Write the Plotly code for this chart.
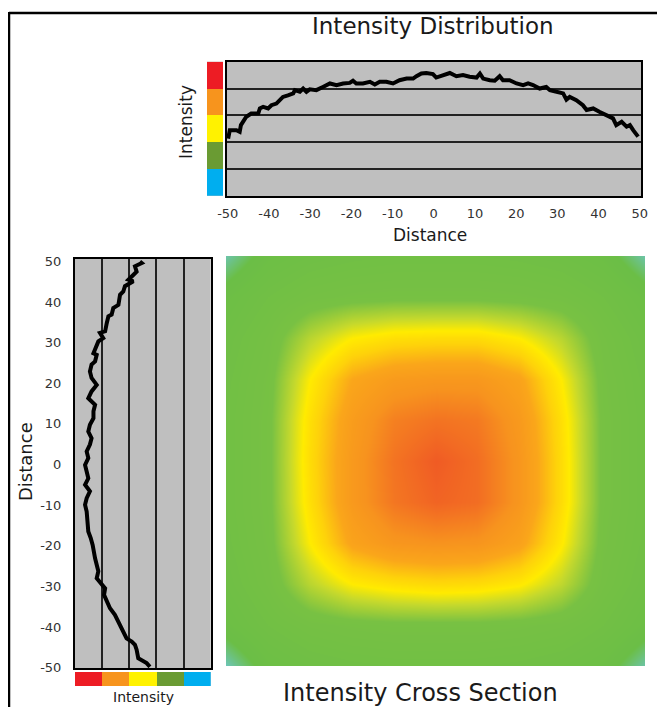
import plotly.graph_objects as go

# page is photographed at 665x707; the browser body adds an 8px margin
PAGE_W, PAGE_H, OFFSET = 665, 707, 8
W, H = PAGE_W - OFFSET, PAGE_H - OFFSET

# ---------------- data ----------------
# Top profile: horizontal intensity distribution (distance, intensity band 0-5)
top_distance = [-49.9, -49.5, -47.9, -47.1, -46.8, -45.5, -44.3, -42.6, -42.2, -41.4, -40.2, -39.4,
                -38.2, -37.4, -36.6, -35.4, -34.1, -33.7, -32.5, -31.7, -30.9, -30.1, -28.5, -26.9,
                -25.2, -23.6, -22.0, -20.4, -19.6, -18.8, -17.2, -15.5, -14.3, -13.1, -11.5, -9.9,
                -8.3, -6.6, -5.0, -4.2, -3.0, -1.8, -0.2, 0.6, 2.3, 3.9, 5.5, 7.1, 8.7, 10.4, 11.2,
                12.0, 13.6, 14.8, 16.0, 16.8, 18.4, 20.1, 21.7, 22.9, 24.1, 25.7, 27.3, 28.2, 29.8,
                31.4, 32.2, 33.0, 34.6, 36.2, 37.1, 38.7, 40.3, 41.9, 43.5, 44.3, 45.6, 46.8, 47.6,
                48.4, 49.6]
top_intensity = [2.14, 2.45, 2.45, 2.39, 2.64, 2.95, 3.07, 3.07, 3.26, 3.32, 3.26, 3.38,
                 3.44, 3.57, 3.69, 3.75, 3.82, 3.94, 3.88, 4.00, 3.88, 3.97, 3.94, 4.06,
                 4.19, 4.13, 4.19, 4.21, 4.29, 4.19, 4.19, 4.25, 4.15, 4.25, 4.25, 4.19,
                 4.31, 4.37, 4.37, 4.46, 4.56, 4.58, 4.54, 4.41, 4.50, 4.58, 4.46, 4.50, 4.44, 4.41, 4.56,
                 4.37, 4.31, 4.29, 4.46, 4.31, 4.31, 4.19, 4.13, 4.19, 4.13, 4.00, 4.06, 3.94, 3.88,
                 3.82, 3.59, 3.69, 3.57, 3.38, 3.20, 3.26, 3.13, 3.01, 2.89, 2.64, 2.76, 2.58, 2.64,
                 2.45, 2.21]

# Left profile: vertical intensity distribution (distance, intensity band 0-5)
left_distance = [50.0, 49.6, 48.8, 47.5, 46.3, 45.5, 45.1, 43.9, 42.6, 41.8, 39.3, 38.5, 36.9, 36.5,
                 34.8, 32.8, 32.4, 31.1, 30.3, 28.7, 27.4, 27.0, 25.4, 24.6, 22.9, 21.3, 19.6, 18.0,
                 16.3, 14.7, 13.1, 11.4, 9.8, 8.1, 6.5, 4.9, 3.2, 1.6, -0.1, -1.7, -3.4, -5.0, -6.6,
                 -8.3, -9.9, -11.6, -14.0, -16.5, -18.1, -19.8, -23.1, -24.7, -26.3, -28.0, -29.6,
                 -30.5, -32.1, -33.7, -35.4, -37.0, -38.7, -41.1, -42.8, -43.6, -44.4, -45.6, -47.7,
                 -48.9, -49.8]
left_intensity = [2.61, 2.54, 2.79, 2.73, 2.91, 3.03, 2.85, 3.16, 3.22, 3.34, 3.40, 3.59, 3.65, 3.77,
                  3.83, 3.89, 4.08, 3.96, 4.14, 4.26, 4.32, 4.20, 4.26, 4.39, 4.45, 4.39, 4.20, 4.39,
                  4.51, 4.26, 4.32, 4.32, 4.45, 4.51, 4.39, 4.45, 4.57, 4.51, 4.63, 4.57, 4.51, 4.63, 4.45,
                  4.57, 4.63, 4.57, 4.55, 4.51, 4.42, 4.35, 4.26, 4.20, 4.14, 4.20, 4.02,
                  3.89, 3.93, 3.83, 3.71, 3.53, 3.40, 3.22, 3.10, 2.91, 2.79, 2.73, 2.67,
                  2.36, 2.24]

# Cross section grid (relative intensity 0-1), rows y=-50..50, cols x=-50..50
grid_pos = [-50, -40, -30, -20, -10, 0, 10, 20, 30, 40, 50]
cross_section = [
    [0.03, 0.13, 0.17, 0.19, 0.20, 0.20, 0.20, 0.19, 0.17, 0.13, 0.04],
    [0.13, 0.20, 0.25, 0.27, 0.28, 0.28, 0.28, 0.27, 0.25, 0.20, 0.13],
    [0.17, 0.25, 0.40, 0.50, 0.54, 0.56, 0.55, 0.51, 0.41, 0.25, 0.17],
    [0.19, 0.27, 0.50, 0.70, 0.78, 0.80, 0.79, 0.71, 0.51, 0.27, 0.19],
    [0.20, 0.28, 0.54, 0.76, 0.89, 0.95, 0.92, 0.78, 0.55, 0.28, 0.20],
    [0.20, 0.28, 0.55, 0.76, 0.90, 0.98, 0.92, 0.78, 0.55, 0.28, 0.20],
    [0.20, 0.28, 0.54, 0.74, 0.86, 0.90, 0.88, 0.76, 0.54, 0.28, 0.20],
    [0.19, 0.27, 0.50, 0.68, 0.75, 0.77, 0.77, 0.70, 0.50, 0.27, 0.19],
    [0.17, 0.25, 0.40, 0.50, 0.54, 0.55, 0.55, 0.50, 0.40, 0.25, 0.17],
    [0.13, 0.20, 0.25, 0.27, 0.28, 0.28, 0.28, 0.27, 0.25, 0.20, 0.13],
    [0.04, 0.13, 0.17, 0.19, 0.20, 0.20, 0.20, 0.19, 0.17, 0.13, 0.04],
]

# Intensity bands (low -> high)
band_centers = [0.5, 1.5, 2.5, 3.5, 4.5]
band_index = [0, 1, 2, 3, 4]
band_colors = ["#00AEEF", "#6A9B33", "#FFF200", "#F7941D", "#ED1C24"]
dist_ticks = [-50, -40, -30, -20, -10, 0, 10, 20, 30, 40, 50]
dist_tick_labels = ["-50", "-40", "-30", "-20", "-10", "0", "10", "20", "30", "40", "50"]

# ---------------- helpers (page pixels -> paper fraction) ----------------
def fx(px):
    return (px - OFFSET) / W

def fy(py):
    return 1 - (py - OFFSET) / H

FONT = "DejaVu Sans"
GRAY = "#BFBFBF"
band_scale = [[i / 4, c] for i, c in enumerate(band_colors)]
heat_scale = [[0.0, "#6EC8EA"], [0.1, "#6BBE46"], [0.3, "#78C143"], [0.42, "#C6D92C"],
              [0.5, "#FFEB00"], [0.58, "#FED20A"], [0.68, "#FAA61A"], [0.8, "#F7931E"],
              [0.9, "#F37322"], [1.0, "#EF5525"]]

fig = go.Figure()

fig.add_trace(go.Scatter(x=top_distance, y=top_intensity, mode="lines",
                         line=dict(color="black", width=4), xaxis="x", yaxis="y",
                         showlegend=False, hoverinfo="skip"))
fig.add_trace(go.Scatter(x=left_intensity, y=left_distance, mode="lines",
                         line=dict(color="black", width=4), xaxis="x2", yaxis="y2",
                         showlegend=False, hoverinfo="skip"))
fig.add_trace(go.Heatmap(x=grid_pos, y=grid_pos, z=cross_section, zmin=0, zmax=1,
                         colorscale=heat_scale, zsmooth="best", showscale=False,
                         xaxis="x3", yaxis="y3", hoverinfo="skip"))
fig.add_trace(go.Heatmap(x=[0], y=band_centers, z=[[v] for v in band_index], zmin=0, zmax=4,
                         colorscale=band_scale, showscale=False, xaxis="x4", yaxis="y4",
                         hoverinfo="skip"))
fig.add_trace(go.Heatmap(x=band_centers, y=[0], z=[band_index], zmin=0, zmax=4,
                         colorscale=band_scale, showscale=False, xaxis="x5", yaxis="y5",
                         hoverinfo="skip"))

tickfont = dict(family=FONT, size=13, color="#333333")
box = dict(showline=True, mirror=True, linecolor="black", linewidth=2, zeroline=False,
           automargin=False)
hidden = dict(visible=False, showgrid=False, zeroline=False, automargin=False)

fig.update_layout(
    width=W, height=H, margin=dict(l=0, r=0, t=0, b=0, pad=0, autoexpand=False),
    paper_bgcolor="white", plot_bgcolor=GRAY,
    xaxis=dict(domain=[fx(226.5), fx(641)], range=[-50.3, 50.3], tickvals=dist_ticks,
               ticktext=dist_tick_labels,
               ticks="outside", ticklen=4, tickcolor="rgba(0,0,0,0)", tickfont=tickfont,
               showgrid=False, anchor="y", **box),
    yaxis=dict(domain=[fy(196), fy(61.7)], range=[0, 5], dtick=1, showticklabels=False,
               showgrid=True, gridcolor="#222222", gridwidth=1.5, anchor="x", **box),
    xaxis2=dict(domain=[fx(75), fx(210.7)], range=[5, 0], dtick=1, showticklabels=False,
                showgrid=True, gridcolor="#222222", gridwidth=1.5, anchor="y2", **box),
    yaxis2=dict(domain=[fy(668), fy(259)], range=[-50.1, 50.6], tickvals=dist_ticks,
                ticktext=dist_tick_labels,
                ticks="outside", ticklen=9, tickcolor="rgba(0,0,0,0)", tickfont=tickfont,
                showgrid=False, anchor="x2", **box),
    xaxis3=dict(domain=[fx(226), fx(645)], range=[-50, 50], anchor="y3", **hidden),
    yaxis3=dict(domain=[fy(666), fy(256)], range=[-50, 50], anchor="x3", **hidden),
    xaxis4=dict(domain=[fx(207), fx(223)], range=[-0.5, 0.5], anchor="y4", **hidden),
    yaxis4=dict(domain=[fy(196), fy(61.7)], range=[0, 5], anchor="x4", **hidden),
    xaxis5=dict(domain=[fx(75), fx(210.7)], range=[5, 0], anchor="y5", **hidden),
    yaxis5=dict(domain=[fy(686), fy(672)], range=[-0.5, 0.5], anchor="x5", **hidden),
)

def label(text, x, y, size, angle=0):
    fig.add_annotation(text=text, x=fx(x), y=fy(y), xref="paper", yref="paper",
                       showarrow=False, textangle=angle, xanchor="center", yanchor="middle",
                       font=dict(family=FONT, size=size, color="#1a1a1a"))

label("Intensity Distribution", 433, 26, 23)
label("Intensity Cross Section", 420, 693, 24)
label("Distance", 430, 235, 17)
label("Intensity", 186, 122, 17, -90)
label("Distance", 26, 462, 18, -90)
label("Intensity", 143, 697, 14)

# outer frame (top and left edges)
fig.add_shape(type="line", xref="paper", yref="paper", x0=fx(9), y0=fy(13), x1=1, y1=fy(13),
              line=dict(color="black", width=2.5))
fig.add_shape(type="line", xref="paper", yref="paper", x0=fx(9), y0=fy(12), x1=fx(9), y1=0,
              line=dict(color="black", width=2.5))

fig.write_html("out.html")
